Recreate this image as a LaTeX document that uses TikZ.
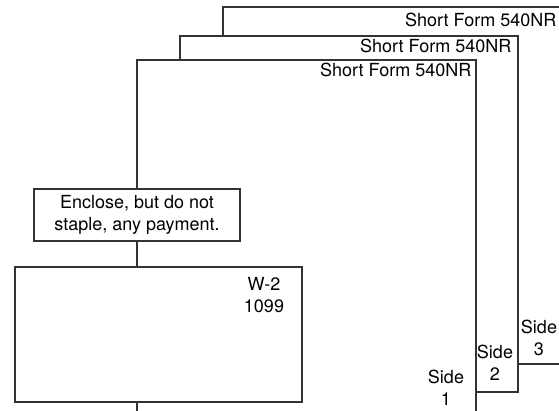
\documentclass[tikz,border=0pt]{standalone}
\usepackage{fontspec}
\setmainfont{TeX Gyre Heros}
\usetikzlibrary{positioning,calc}
\tikzset{>=latex}

\begin{document}
\begin{tikzpicture}[x=0.5pt,y=-0.5pt,line width=0.7pt,draw=black!80,
    every node/.style={font=\fontsize{9}{11}\selectfont,text=black},
    formbox/.style={draw,inner sep=0,outer sep=0,align=center},
    formlbl/.style={anchor=base east,inner sep=0},
    sidelbl/.style={anchor=north,align=center,inner sep=0}]
		\useasboundingbox (0,0) rectangle (559,411);

		\coordinate (s3tl) at (223,7);
		\coordinate (s3tr) at (559,7);
		\coordinate (s3br) at (559,364);
		\coordinate (s2tl) at (180,36);
		\coordinate (s2tr) at (518,36);
		\coordinate (s2br) at (518,392);
		\coordinate (s1tl) at (137,60);
		\coordinate (s1tr) at (476,60);
		\coordinate (s1bot) at (476,411);

		\node[formbox,minimum width=103pt,minimum height=26pt] (enc) at (137,215) {Enclose, but do not\\staple, any payment.};
		\node[formbox,minimum width=143.5pt,minimum height=67.5pt,below=13pt of enc,xshift=10.75pt] (wtwo) {};
		\node[sidelbl] (wtwolbl) at (264,277) {W-2\\1099};

		% sheets, back to front.
		\draw (s3tl |- s2tl) -- (s3tl) -- (s3tr);
		\draw (s2tr |- s3br) -- (s3br);
		\draw (s2tl |- s1tl) -- (s2tl) -- (s2tr) -- (s2br) -- (s1tr |- s2br);
		\draw (enc.north) -- (enc.north |- s1tl) -- (s1tr) -- (s1bot);

		\draw (enc.south) -- (enc.south |- wtwo.north);
		\draw (enc.south |- wtwo.south) -- (enc.south |- s1bot);

		\node[formlbl] (form3) at ($(s3tr)+(-2,20)$) {Short Form 540NR};
		\node[formlbl] (form2) at ($(s2tr)+(-6,17)$) {Short Form 540NR};
		\node[formlbl] (form1) at ($(s1tr)+(-4,17)$) {Short Form 540NR};

		\node[sidelbl] (side1) at (446,369) {Side\\1};
		\node[sidelbl] (side2) at (495,344) {Side\\2};
		\node[sidelbl] (side3) at (539,319) {Side\\3};
	\end{tikzpicture}
\end{document}
